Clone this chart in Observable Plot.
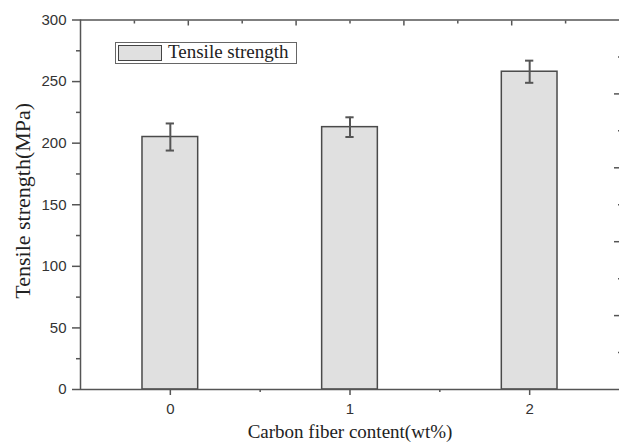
<!DOCTYPE html>
<html><head><meta charset="utf-8">
<script src="https://cdn.jsdelivr.net/npm/d3@7"></script>
<script src="https://cdn.jsdelivr.net/npm/@observablehq/plot@0.6"></script>
<style>
body{margin:0;background:#fff;}
#wrap{position:relative;width:619px;height:446px;overflow:hidden;}
#legend{position:absolute;left:115px;top:42px;width:182px;height:22px;box-sizing:border-box;border:1.5px solid #666;background:#fff;font-family:"Liberation Serif","Times New Roman",serif;font-size:19px;color:#222;}
#legend .sw{position:absolute;left:2px;top:2px;width:44px;height:16px;box-sizing:border-box;border:1.5px solid #444;background:#e0e0e0;}
#legend .lb{position:absolute;left:52px;top:-2px;white-space:nowrap;}
svg g[aria-label="y-axis tick label"], svg g[aria-label="x-axis tick label"]{font-size:15px !important;font-family:"Liberation Sans",Arial,sans-serif !important;fill:#333;}
</style></head><body>
<div id="wrap"></div>
<script>
// data
const contents = [0, 1, 2];
const strength = [205, 213, 258];
const errors = [11, 8, 9];
const seriesName = "Tensile strength";
const yTicks = [0, 50, 100, 150, 200, 250, 300];
const yMinorTicks = [25, 75, 125, 175, 225, 275];
const xTicks = [0, 1, 2];
const xMinorTicks = [0.5, 1.5];
const topMajorTicks = [0.1, 0.7, 1.3, 1.9];
const topMinorTicks = [-0.2, 0.4, 1.0, 1.6, 2.2];
const rightMajorTicks = [60, 120, 180, 240];
const rightMinorTicks = [30, 90, 150, 210, 270];
const xDomain = [-0.5, 2.5];
const yDomain = [0, 300];
const xLabel = "Carbon fiber content(wt%)";
const yLabel = "Tensile strength(MPa)";

const data = contents.map((c, i) => ({x: c, v: strength[i], e: errors[i]}));
const half = 0.155, cap = 0.023;
const axisColor = "#555";
const tickFont = {fontFamily: "Liberation Sans, Arial, sans-serif", fontSize: 15};
const titleFont = {fontFamily: "Liberation Serif, Times New Roman, serif", fill: "#222"};

const chart = Plot.plot({
  width: 619, height: 446,
  marginLeft: 80, marginRight: 0, marginTop: 19.5, marginBottom: 57,
  style: {background: "#fff", overflow: "visible"},
  x: {domain: xDomain},
  y: {domain: yDomain},
  marks: [
    Plot.rectY(data, {x1: d => d.x - half, x2: d => d.x + half, y: "v", fill: "#e0e0e0", stroke: "#4a4a4a", strokeWidth: 1.5}),
    Plot.ruleX(data, {x: "x", y1: d => d.v - d.e, y2: d => d.v + d.e, stroke: "#555", strokeWidth: 2}),
    Plot.ruleY(data, {y: d => d.v + d.e, x1: d => d.x - cap, x2: d => d.x + cap, stroke: "#555", strokeWidth: 2}),
    Plot.ruleY(data, {y: d => d.v - d.e, x1: d => d.x - cap, x2: d => d.x + cap, stroke: "#555", strokeWidth: 2}),
    Plot.ruleY([yDomain[0], yDomain[1]], {stroke: axisColor, strokeWidth: 1.5}),
    Plot.ruleX([xDomain[0]], {stroke: axisColor, strokeWidth: 1.5}),
    Plot.axisY({ticks: yTicks, tickSize: 8, tickPadding: 6, stroke: axisColor, strokeWidth: 1.5, label: null, ...tickFont}),
    Plot.axisY({ticks: yMinorTicks, tickSize: 4, text: null, stroke: axisColor, strokeWidth: 1.5, label: null}),
    Plot.axisX({ticks: xTicks, tickSize: 6, tickPadding: 8, tickFormat: d3.format("d"), stroke: axisColor, strokeWidth: 1.5, label: null, ...tickFont}),
    Plot.axisX({ticks: xMinorTicks, tickSize: 3, text: null, stroke: axisColor, strokeWidth: 1.5, label: null}),
    Plot.axisX({anchor: "top", ticks: topMajorTicks, tickSize: -5, text: null, stroke: axisColor, strokeWidth: 1.5, label: null}),
    Plot.axisX({anchor: "top", ticks: topMinorTicks, tickSize: -3, text: null, stroke: axisColor, strokeWidth: 1.5, label: null}),
    Plot.axisY({anchor: "right", ticks: rightMajorTicks, tickSize: -6, text: null, stroke: axisColor, strokeWidth: 1.5, label: null}),
    Plot.axisY({anchor: "right", ticks: rightMinorTicks, tickSize: -2, text: null, stroke: axisColor, strokeWidth: 1.5, label: null}),
    Plot.text([xLabel], {text: d => d, frameAnchor: "bottom", textAnchor: "middle", dy: 48, fontSize: 19, ...titleFont}),
    Plot.text([yLabel], {text: d => d, frameAnchor: "left", textAnchor: "middle", dx: -58, dy: -4, rotate: -90, fontSize: 22, ...titleFont})
  ]
});
const wrap = document.getElementById("wrap");
wrap.appendChild(chart);
const lg = document.createElement("div");
lg.id = "legend";
lg.innerHTML = `<div class="sw"></div><div class="lb">${seriesName}</div>`;
wrap.appendChild(lg);
</script>
</body></html>
